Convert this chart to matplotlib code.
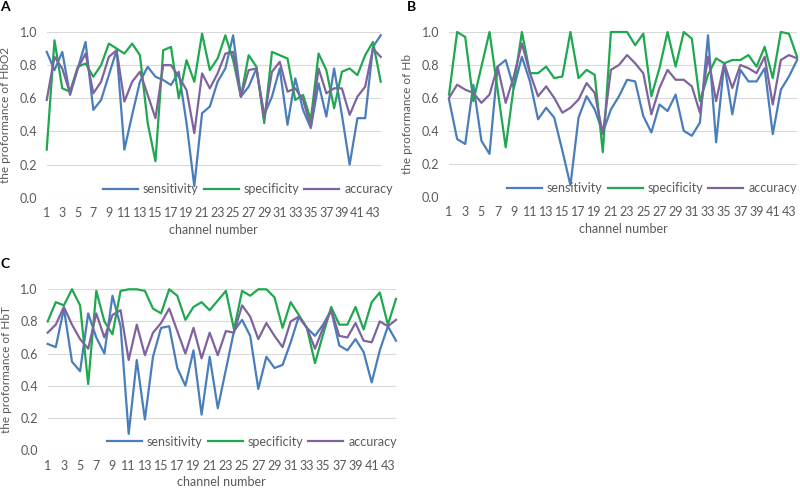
import numpy as np
import matplotlib
matplotlib.use("Agg")
import matplotlib.pyplot as plt

plt.rcParams['font.family'] = ['Lato', 'DejaVu Sans']

channels = np.arange(1, 45)
tick_channels = np.arange(1, 44, 2)

# panel A - HbO2
a_sens = [0.88, 0.77, 0.88, 0.62, 0.78, 0.94, 0.53, 0.59, 0.74, 0.89, 0.29, 0.50, 0.70, 0.79, 0.73,
          0.71, 0.68, 0.76, 0.45, 0.07, 0.51, 0.55, 0.70, 0.78, 0.98, 0.61, 0.67, 0.78, 0.50, 0.61,
          0.78, 0.44, 0.72, 0.53, 0.42, 0.69, 0.49, 0.78, 0.50, 0.20, 0.48, 0.48, 0.91, 0.98]
a_spec = [0.29, 0.95, 0.66, 0.64, 0.79, 0.81, 0.73, 0.80, 0.93, 0.90, 0.87, 0.93, 0.86, 0.45, 0.22,
          0.89, 0.91, 0.60, 0.83, 0.70, 0.99, 0.77, 0.84, 0.98, 0.83, 0.61, 0.86, 0.79, 0.45, 0.88,
          0.86, 0.84, 0.59, 0.62, 0.47, 0.87, 0.77, 0.54, 0.76, 0.78, 0.74, 0.86, 0.94, 0.70]
a_acc = [0.59, 0.85, 0.78, 0.63, 0.78, 0.87, 0.63, 0.70, 0.85, 0.89, 0.58, 0.70, 0.76, 0.62, 0.48,
         0.80, 0.80, 0.73, 0.65, 0.39, 0.75, 0.66, 0.75, 0.87, 0.88, 0.61, 0.77, 0.78, 0.48, 0.76,
         0.82, 0.64, 0.66, 0.59, 0.43, 0.78, 0.63, 0.66, 0.66, 0.50, 0.61, 0.67, 0.90, 0.85]

# panel B - Hb
b_sens = [0.59, 0.35, 0.32, 0.68, 0.34, 0.26, 0.79, 0.83, 0.66, 0.85, 0.70, 0.47, 0.54, 0.48, 0.28,
          0.07, 0.48, 0.61, 0.53, 0.39, 0.53, 0.61, 0.71, 0.70, 0.49, 0.39, 0.56, 0.52, 0.62, 0.40,
          0.37, 0.45, 0.98, 0.33, 0.81, 0.50, 0.77, 0.70, 0.70, 0.78, 0.38, 0.65, 0.73, 0.83]
b_spec = [0.62, 1.00, 0.97, 0.58, 0.79, 1.00, 0.65, 0.30, 0.67, 1.00, 0.75, 0.75, 0.79, 0.72, 0.73,
          1.00, 0.72, 0.77, 0.74, 0.27, 1.00, 1.00, 1.00, 0.92, 0.99, 0.61, 0.78, 1.00, 0.79, 1.00,
          0.96, 0.58, 0.74, 0.84, 0.81, 0.83, 0.83, 0.86, 0.79, 0.91, 0.72, 1.00, 0.99, 0.85]
b_acc = [0.60, 0.68, 0.65, 0.63, 0.57, 0.62, 0.79, 0.57, 0.73, 0.93, 0.75, 0.61, 0.67, 0.60, 0.51,
         0.54, 0.59, 0.69, 0.63, 0.38, 0.77, 0.80, 0.86, 0.81, 0.75, 0.50, 0.66, 0.77, 0.71, 0.71,
         0.67, 0.51, 0.85, 0.58, 0.81, 0.66, 0.80, 0.78, 0.75, 0.85, 0.56, 0.83, 0.86, 0.84]

# panel C - HbT
c_sens = [0.66, 0.64, 0.88, 0.55, 0.49, 0.85, 0.70, 0.60, 0.96, 0.77, 0.10, 0.56, 0.19, 0.58, 0.76,
          0.77, 0.51, 0.40, 0.62, 0.22, 0.58, 0.26, 0.50, 0.74, 0.81, 0.71, 0.38, 0.58, 0.51, 0.53,
          0.67, 0.83, 0.76, 0.71, 0.78, 0.87, 0.65, 0.62, 0.69, 0.61, 0.42, 0.62, 0.77, 0.68]
c_spec = [0.80, 0.92, 0.90, 1.00, 0.90, 0.41, 0.99, 0.80, 0.72, 0.99, 1.00, 1.00, 0.99, 0.88, 0.85,
          1.00, 0.96, 0.81, 0.89, 0.92, 0.87, 0.93, 0.99, 0.75, 0.99, 0.96, 1.00, 1.00, 0.95, 0.76,
          0.92, 0.84, 0.76, 0.54, 0.72, 0.89, 0.78, 0.78, 0.89, 0.75, 0.92, 0.98, 0.78, 0.94]
c_acc = [0.73, 0.78, 0.89, 0.78, 0.69, 0.63, 0.85, 0.70, 0.84, 0.87, 0.56, 0.78, 0.59, 0.73, 0.79,
         0.88, 0.74, 0.60, 0.76, 0.57, 0.73, 0.59, 0.74, 0.73, 0.90, 0.83, 0.69, 0.79, 0.71, 0.64,
         0.80, 0.83, 0.76, 0.63, 0.76, 0.87, 0.71, 0.70, 0.79, 0.68, 0.67, 0.80, 0.77, 0.81]

series_names = ["sensitivity", "specificity", "accuracy"]
colors = ["#4a7ebb", "#1fa84f", "#7e649e"]
text_color = "#595959"

fig = plt.figure(figsize=(8, 4.88), dpi=100)

panels = [
    ("A", "the proformance of HbO2", [a_sens, a_spec, a_acc], [0.0584, 0.5949, 0.4175, 0.3395], 1.037),
    ("B", "the proformance of Hb", [b_sens, b_spec, b_acc], [0.5613, 0.5969, 0.435, 0.3375], 1.0),
    ("C", "the proformance of HbT", [c_sens, c_spec, c_acc], [0.0596, 0.0779, 0.4354, 0.3293], 1.003),
]

for letter, ylabel, data, rect, leg_x in panels:
    ax = fig.add_axes(rect)
    for vals, name, col in zip(data, series_names, colors):
        ax.plot(channels, vals, color=col, lw=1.6, label=name, clip_on=False)
    ax.set_xlim(1, 44)
    ax.set_ylim(0, 1.0)
    ax.set_yticks(np.arange(0, 1.01, 0.2))
    ax.set_yticklabels([f"{v:.1f}" for v in np.arange(0, 1.01, 0.2)])
    ax.set_xticks(tick_channels)
    ax.set_xticklabels([str(c) for c in tick_channels])
    ax.grid(axis="y", color="#d9d9d9", lw=0.8)
    ax.set_axisbelow(True)
    for s in ax.spines.values():
        s.set_visible(False)
    ax.tick_params(length=0, labelsize=9, labelcolor=text_color)
    ax.tick_params(axis="x", pad=7)
    ax.tick_params(axis="y", pad=7)
    ax.set_xlabel("channel number", fontsize=9, color=text_color, labelpad=3)
    ax.set_ylabel(ylabel, fontsize=8.5, color=text_color, labelpad=6)
    ax.legend(loc="center right", bbox_to_anchor=(leg_x, 0.0525), ncol=3, frameon=False,
              fontsize=9, handlelength=2.8, handletextpad=0.4, columnspacing=0.4,
              borderpad=0, borderaxespad=0, labelcolor=text_color)
    fig.text((5 if letter != "B" else 412) / 800, (rect[1] + rect[3]) + 25 / 488, letter,
             fontsize=10, fontweight="bold", va="center", ha="center")

plt.savefig("out.png", dpi=100)
